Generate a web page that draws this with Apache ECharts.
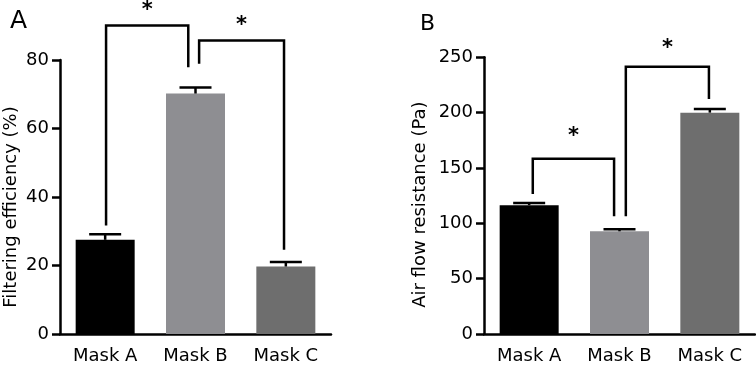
<!DOCTYPE html>
<html>
<head>
<meta charset="utf-8">
<script src="https://cdn.jsdelivr.net/npm/echarts@6/dist/echarts.min.js"></script>
<style>
  html, body { margin: 0; padding: 0; background: #fff; }
  #chart { width: 756px; height: 368px; }
</style>
</head>
<body>
<div id="chart"></div>
<script>
// categories shared by both panels
var masks = ["Mask A", "Mask B", "Mask C"];
var barColors = ["#000000", "#8e8e92", "#6e6e6e"];

// panel A: filtering efficiency (%)
var effMean = [27.5, 70.2, 19.7];
var effErr = [1.6, 1.8, 1.3];
var effTicks = { min: 0, max: 80, interval: 20 };
// brackets: [from (cat pos), to (cat pos), top, left leg end, right leg end, star y]
var effBrackets = [
  [0.01, 0.92, 90.1, 31.7, 77.9, 94.3],
  [1.04, 1.98, 85.7, 78.9, 24.6, 90.2]
];

// panel B: air flow resistance (Pa)
var resMean = [116.4, 92.8, 200.0];
var resErr = [2.0, 1.9, 3.4];
var resTicks = { min: 0, max: 250, interval: 50 };
var resBrackets = [
  [0.04, 0.94, 158.4, 126.5, 106.3, 178.3],
  [1.07, 1.99, 241.5, 106.3, 212.3, 258.1]
];

var FONT = "DejaVu Sans";
var LW = 2.5;

var chart = echarts.init(document.getElementById("chart"));

function xAxisFor(idx) {
  return {
    type: "category",
    gridIndex: idx,
    data: masks,
    axisLine: { lineStyle: { color: "#000", width: LW } },
    axisTick: { alignWithLabel: true, length: 7, lineStyle: { color: "#000", width: LW } },
    axisLabel: { color: "#000", fontSize: 18, fontFamily: FONT, margin: 13 },
    splitLine: { show: false }
  };
}

function yAxisFor(idx, ticks, name, gap, shift) {
  return {
    type: "value",
    gridIndex: idx,
    min: ticks.min,
    max: ticks.max,
    interval: ticks.interval,
    name: name,
    nameLocation: "middle",
    nameRotate: 90,
    nameGap: gap,
    nameTextStyle: { color: "#000", fontSize: 18, fontFamily: FONT, padding: [0, shift, 0, 0] },
    axisLine: { show: true, lineStyle: { color: "#000", width: LW } },
    axisTick: { show: true, length: 8, lineStyle: { color: "#000", width: LW } },
    axisLabel: { color: "#000", fontSize: 18, fontFamily: FONT, margin: 11 },
    splitLine: { show: false }
  };
}

function barSeries(idx, values) {
  return {
    type: "bar",
    xAxisIndex: idx,
    yAxisIndex: idx,
    barWidth: 59,
    data: values.map(function (v, i) {
      return { value: v, itemStyle: { color: barColors[i] } };
    }),
    z: 2
  };
}

function errorSeries(idx, values, errs) {
  return {
    type: "custom",
    xAxisIndex: idx,
    yAxisIndex: idx,
    data: values.map(function (v, i) { return [i, v, v + errs[i]]; }),
    renderItem: function (params, api) {
      var base = api.coord([api.value(0), api.value(1)]);
      var top = api.coord([api.value(0), api.value(2)]);
      var half = 16;
      return {
        type: "group",
        children: [
          { type: "line", shape: { x1: base[0], y1: base[1], x2: top[0], y2: top[1] },
            style: { stroke: "#000", lineWidth: LW } },
          { type: "line", shape: { x1: top[0] - half, y1: top[1], x2: top[0] + half, y2: top[1] },
            style: { stroke: "#000", lineWidth: LW } }
        ]
      };
    },
    z: 3
  };
}

function bracketSeries(idx, brackets) {
  return {
    type: "custom",
    xAxisIndex: idx,
    yAxisIndex: idx,
    clip: false,
    data: brackets,
    renderItem: function (params, api) {
      var c0 = api.coord([0, api.value(2)]);
      var c1 = api.coord([1, api.value(2)]);
      var step = c1[0] - c0[0];
      var xa = c0[0] + step * api.value(0);
      var xb = c0[0] + step * api.value(1);
      var yt = c0[1];
      var ya = api.coord([0, api.value(3)])[1];
      var yb = api.coord([0, api.value(4)])[1];
      var ys = api.coord([0, api.value(5)])[1];
      return {
        type: "group",
        children: [
          { type: "polyline", shape: { points: [[xa, ya], [xa, yt], [xb, yt], [xb, yb]] },
            style: { stroke: "#000", lineWidth: LW, fill: null } },
          { type: "text", x: (xa + xb) / 2, y: ys,
            style: { text: "*", fill: "#000", font: "bold 21px " + FONT,
                     textAlign: "center", textVerticalAlign: "middle" } }
        ]
      };
    },
    z: 4
  };
}

chart.setOption({
  backgroundColor: "#fff",
  animation: false,
  title: [
    { text: "A", left: 5, top: 4, textStyle: { fontSize: 25, fontWeight: "normal", color: "#000", fontFamily: FONT } },
    { text: "B", left: 415, top: 8, textStyle: { fontSize: 22, fontWeight: "normal", color: "#000", fontFamily: FONT } }
  ],
  grid: [
    { left: 60, top: 60, width: 271, height: 274 },
    { left: 484, top: 57.3, width: 271, height: 276.7 }
  ],
  xAxis: [xAxisFor(0), xAxisFor(1)],
  yAxis: [
    yAxisFor(0, effTicks, "Filtering efficiency (%)", 40, 20),
    yAxisFor(1, resTicks, "Air flow resistance (Pa)", 55, 18)
  ],
  series: [
    barSeries(0, effMean),
    errorSeries(0, effMean, effErr),
    bracketSeries(0, effBrackets),
    barSeries(1, resMean),
    errorSeries(1, resMean, resErr),
    bracketSeries(1, resBrackets)
  ]
});
</script>
</body>
</html>
